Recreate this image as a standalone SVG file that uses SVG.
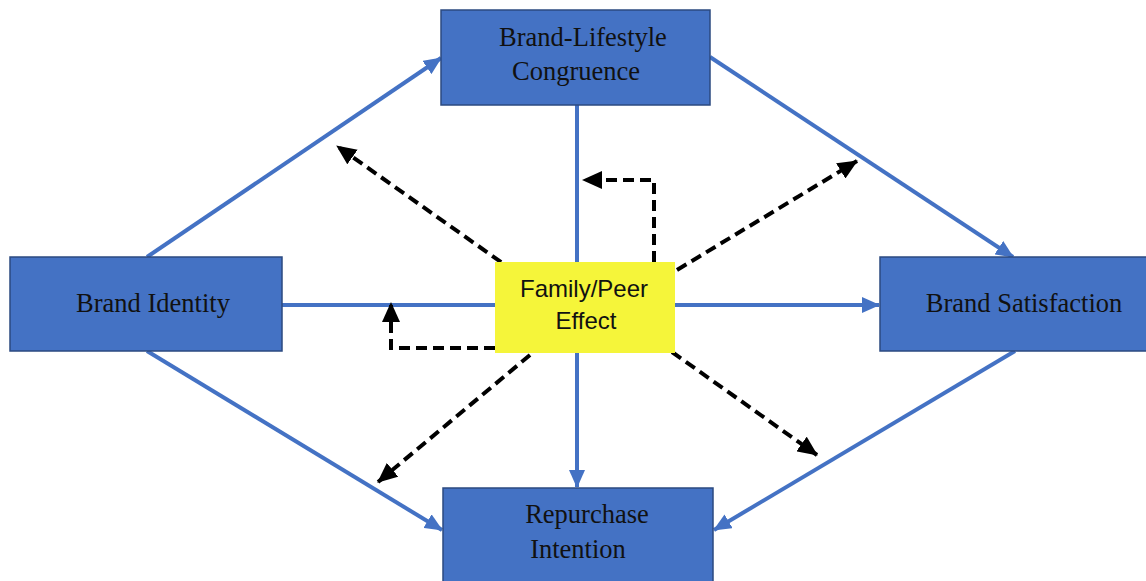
<svg xmlns="http://www.w3.org/2000/svg" width="1146" height="581" viewBox="0 0 1146 581">
<style>
.box{fill:#4472C4;stroke:#2B4A80;stroke-width:1.5}
.yel{fill:#F5F53A;stroke:none}
.lbl{font-family:"Liberation Serif","Times New Roman",serif;font-size:26.5px;fill:#111;text-anchor:middle}
.lbs{font-family:"Liberation Sans",Arial,sans-serif;font-size:24px;fill:#111;text-anchor:middle}
.blue{stroke:#4472C4;stroke-width:4;fill:none;marker-end:url(#ab)}
.dash{stroke:#000;stroke-width:4;fill:none;stroke-dasharray:11 6;marker-end:url(#ak)}
</style>
<defs>
<marker id="ab" markerUnits="userSpaceOnUse" markerWidth="18" markerHeight="16" refX="17" refY="8" orient="auto"><path d="M0,0 L18,8 L0,16 z" fill="#4472C4"/></marker>
<marker id="ak" markerUnits="userSpaceOnUse" markerWidth="20" markerHeight="18" refX="19" refY="9" orient="auto"><path d="M0,0 L20,9 L0,18 z" fill="#000"/></marker>
</defs>
<rect width="1146" height="581" fill="#fff"/>
<g id="connectors">
<line class="blue" x1="147" y1="257" x2="441" y2="58"/>
<line class="blue" x1="710" y1="57" x2="1013" y2="257"/>
<line class="blue" x1="147" y1="351" x2="442" y2="530"/>
<line class="blue" x1="1015" y1="351" x2="714" y2="530"/>
<line class="blue" x1="577" y1="105" x2="577" y2="487"/>
<line class="blue" x1="282" y1="305" x2="879" y2="305"/>
<line class="dash" x1="515" y1="272" x2="337" y2="146"/>
<line class="dash" x1="677" y1="270" x2="857" y2="161"/>
<line class="dash" x1="530" y1="355" x2="378" y2="482"/>
<line class="dash" x1="672" y1="352" x2="817" y2="455"/>
<polyline class="dash" points="654,262 654,180 583,180"/>
<polyline class="dash" points="495,348 391,348 391,303"/>
</g>
<g id="brand-lifestyle">
<rect class="box" x="441" y="10" width="269" height="95"/>
<text class="lbl" x="583" y="46">Brand-Lifestyle</text>
<text class="lbl" x="576" y="80">Congruence</text>
</g>
<g id="brand-identity">
<rect class="box" x="10" y="257" width="272" height="94"/>
<text class="lbl" x="153" y="312">Brand Identity</text>
</g>
<g id="brand-satisfaction">
<rect class="box" x="880" y="257" width="270" height="94"/>
<text class="lbl" x="1024" y="312">Brand Satisfaction</text>
</g>
<g id="repurchase-intention">
<rect class="box" x="443" y="488" width="270" height="100"/>
<text class="lbl" x="587" y="523">Repurchase</text>
<text class="lbl" x="578" y="558">Intention</text>
</g>
<g id="family-peer">
<rect class="yel" x="495" y="262" width="180" height="91"/>
<text class="lbs" x="584" y="297">Family/Peer</text>
<text class="lbs" x="586" y="329">Effect</text>
</g>
</svg>
